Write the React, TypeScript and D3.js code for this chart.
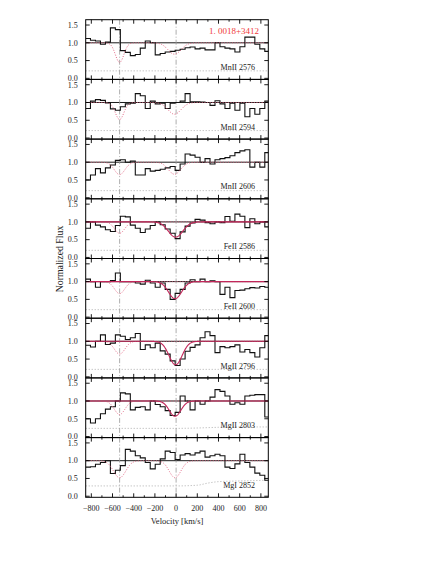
import React from 'react';
import * as d3 from 'd3';

const W = 443;
const H = 573;
const LEFT = 85.7;
const RIGHT = 268.3;
const TOP = 19.7;
const PANEL_H = 59.7;

const velocityDomain = [-853, 870];
const fluxDomain = [-0.03, 1.65];

// left edges of the velocity pixels (km/s); each pixel is 47 km/s wide
const velocityEdges = [
  -855, -808, -761, -714, -667, -620, -573, -526, -479, -432, -385, -338, -291,
  -244, -197, -150, -103, -56, -9, 38, 85, 132, 179, 226, 273, 320, 367, 414,
  461, 508, 555, 602, 649, 696, 743, 790, 837,
];
const pixelWidth = 47;

const flux_MnII2576 = [1.12, 1.07, 1.05, 0.96, 1.02, 1.42, 1.37, 0.78, 0.73, 0.64, 0.67, 0.85, 1.05, 1.0, 0.66, 0.70, 0.74, 0.76, 0.79, 0.82, 0.86, 0.88, 0.83, 0.85, 0.80, 0.80, 1.0, 0.89, 0.85, 0.83, 0.74, 0.89, 1.16, 1.16, 0.96, 0.83, 0.76];
const flux_MnII2594 = [0.83, 1.04, 1.08, 1.06, 0.99, 0.82, 0.78, 0.88, 0.96, 0.98, 1.25, 1.19, 0.83, 1.04, 0.96, 0.98, 0.83, 0.98, 1.0, 1.04, 1.25, 1.02, 1.02, 1.01, 1.0, 0.92, 1.05, 0.96, 0.83, 0.98, 0.78, 0.98, 0.6, 0.83, 0.67, 0.83, 1.04];
const flux_MnII2606 = [0.5, 0.64, 0.82, 0.70, 0.84, 0.92, 1.05, 1.07, 1.0, 1.03, 0.64, 0.64, 0.82, 0.75, 0.77, 0.80, 0.84, 0.88, 0.77, 0.95, 1.23, 1.2, 1.14, 1.0, 1.1, 0.95, 1.07, 1.1, 1.13, 1.18, 1.27, 1.32, 1.35, 0.86, 1.0, 0.86, 1.27];
const flux_FeII2586 = [0.82, 1.0, 0.91, 0.86, 0.78, 0.73, 0.9, 1.16, 1.14, 0.91, 0.82, 0.7, 0.8, 0.9, 1.0, 0.92, 0.8, 0.68, 0.53, 0.72, 0.88, 0.97, 1.07, 1.05, 0.98, 0.95, 1.0, 0.98, 1.15, 1.02, 1.22, 1.16, 0.84, 1.09, 0.95, 1.0, 0.86];
const flux_FeII2600 = [1.07, 1.0, 0.84, 1.0, 1.0, 1.03, 1.24, 1.0, 1.0, 1.0, 0.96, 0.93, 1.04, 0.96, 0.84, 0.96, 0.78, 0.5, 0.67, 0.78, 0.96, 1.05, 1.0, 1.07, 1.0, 1.02, 1.0, 0.64, 0.84, 0.55, 0.75, 0.76, 0.8, 0.83, 0.82, 0.86, 0.84];
const flux_MgII2796 = [0.89, 0.84, 1.0, 1.18, 0.91, 0.95, 1.18, 1.14, 1.05, 1.1, 1.22, 0.77, 0.9, 0.82, 0.95, 0.73, 0.64, 0.45, 0.32, 0.5, 0.72, 0.83, 0.9, 1.1, 1.27, 1.16, 0.68, 0.85, 0.82, 0.85, 0.9, 0.7, 0.77, 0.68, 0.56, 0.82, 1.16];
const flux_MgII2803 = [0.5, 0.38, 0.5, 0.64, 0.77, 0.84, 1.0, 1.23, 1.2, 0.75, 0.82, 0.84, 0.75, 1.0, 0.9, 0.84, 0.73, 0.59, 0.68, 1.14, 1.0, 0.75, 1.0, 0.91, 1.0, 1.11, 1.32, 1.27, 1.14, 0.91, 0.95, 0.91, 1.14, 1.16, 1.18, 1.18, 0.55];
const flux_MgI2852 = [0.82, 0.83, 0.9, 0.95, 1.0, 0.64, 0.73, 0.86, 1.32, 1.27, 1.14, 1.08, 0.95, 0.77, 0.9, 1.05, 1.27, 1.23, 1.03, 1.16, 1.2, 1.16, 1.22, 1.27, 1.1, 1.14, 1.18, 1.14, 0.82, 0.78, 0.91, 1.18, 0.95, 0.82, 0.65, 0.59, 0.45];

// error spectrum sampled at these velocities
const errorVelocities = [-853, -400, 0, 200, 300, 400, 600, 870];
const err_MnII2576 = [0.21, 0.21, 0.21, 0.21, 0.21, 0.21, 0.21, 0.21];
const err_MnII2594 = [0.21, 0.21, 0.21, 0.21, 0.21, 0.21, 0.21, 0.21];
const err_MnII2606 = [0.2, 0.2, 0.2, 0.2, 0.2, 0.2, 0.2, 0.2];
const err_FeII2586 = [0.2, 0.2, 0.2, 0.2, 0.2, 0.2, 0.2, 0.2];
const err_FeII2600 = [0.21, 0.21, 0.21, 0.21, 0.21, 0.21, 0.21, 0.21];
const err_MgII2796 = [0.21, 0.21, 0.21, 0.21, 0.21, 0.21, 0.21, 0.21];
const err_MgII2803 = [0.23, 0.23, 0.23, 0.24, 0.25, 0.26, 0.27, 0.27];
const err_MgI2852 = [0.29, 0.29, 0.29, 0.31, 0.37, 0.41, 0.43, 0.45];

const panelLabels = ['MnII 2576', 'MnII 2594', 'MnII 2606', 'FeII 2586', 'FeII 2600', 'MgII 2796', 'MgII 2803', 'MgI 2852'];

// model components: [center km/s, depth, sigma km/s]
const dotted_MnII2576 = [[-533, 0.55, 40], [-15, 0.32, 62]];
const dotted_MnII2594 = [[-533, 0.48, 40], [-15, 0.33, 62]];
const dotted_MnII2606 = [[-533, 0.35, 50], [-15, 0.34, 58]];
const dotted_FeII2586 = [[-533, 0.32, 48]];
const dotted_FeII2600 = [[-533, 0.34, 48]];
const dotted_MgII2796 = [[-533, 0.36, 50]];
const dotted_MgII2803 = [[-533, 0.38, 50]];
const dotted_MgI2852 = [[-533, 0.48, 58], [-10, 0.48, 55]];

const solid_FeII2586 = [[-5, 0.43, 68]];
const solid_FeII2600 = [[-10, 0.48, 62]];
const solid_MgII2796 = [[-5, 0.66, 62]];
const solid_MgII2803 = [[-10, 0.43, 55]];

const panels = [
  { label: panelLabels[0], flux: flux_MnII2576, err: err_MnII2576, dotted: dotted_MnII2576, solid: null },
  { label: panelLabels[1], flux: flux_MnII2594, err: err_MnII2594, dotted: dotted_MnII2594, solid: null },
  { label: panelLabels[2], flux: flux_MnII2606, err: err_MnII2606, dotted: dotted_MnII2606, solid: null },
  { label: panelLabels[3], flux: flux_FeII2586, err: err_FeII2586, dotted: dotted_FeII2586, solid: solid_FeII2586 },
  { label: panelLabels[4], flux: flux_FeII2600, err: err_FeII2600, dotted: dotted_FeII2600, solid: solid_FeII2600 },
  { label: panelLabels[5], flux: flux_MgII2796, err: err_MgII2796, dotted: dotted_MgII2796, solid: solid_MgII2796 },
  { label: panelLabels[6], flux: flux_MgII2803, err: err_MgII2803, dotted: dotted_MgII2803, solid: solid_MgII2803 },
  { label: panelLabels[7], flux: flux_MgI2852, err: err_MgI2852, dotted: dotted_MgI2852, solid: null },
];

const xMajorTicks = [-800, -600, -400, -200, 0, 200, 400, 600, 800];
const xMinorTicks = [-700, -500, -300, -100, 100, 300, 500, 700];
const yTicks = [0, 0.5, 1.0, 1.5];
const componentVelocities = [-533, 0];
const title = '1. 0018+3412';

const FONT = "'Liberation Serif', 'DejaVu Serif', serif";
const DOT_COLOR = '#e0607f';
const FIT_COLOR = '#c2275a';

function modelProfile(comps: number[][], v: number) {
  let f = 1;
  for (const [c, d, s] of comps) f *= 1 - d * Math.exp(-((v - c) * (v - c)) / (2 * s * s));
  return f;
}

export default function App() {
  const x = d3.scaleLinear().domain(velocityDomain).range([LEFT, RIGHT]);
  const modelGrid = d3.range(velocityDomain[0], velocityDomain[1] + 1, 4);

  return (
    <svg width={W} height={H} style={{ position: 'absolute', left: 0, top: 0, background: '#fff' }}
      fontFamily={FONT}>
      <defs>
        {panels.map((p, i) => (
          <clipPath id={`clip${i}`} key={i}>
            <rect x={LEFT} y={TOP + i * PANEL_H} width={RIGHT - LEFT} height={PANEL_H} />
          </clipPath>
        ))}
      </defs>
      {panels.map((p, i) => {
        const top = TOP + i * PANEL_H;
        const bottom = top + PANEL_H;
        const y = d3.scaleLinear().domain(fluxDomain).range([bottom, top]);
        const stepPts: [number, number][] = velocityEdges.map((v, k) => [v, p.flux[k]]);
        stepPts.push([velocityEdges[velocityEdges.length - 1] + pixelWidth, p.flux[p.flux.length - 1]]);
        const step = d3.line<[number, number]>().x(d => x(d[0])).y(d => y(d[1])).curve(d3.curveStepAfter)(stepPts);
        const errLine = d3.line<number>().x((v, k) => x(errorVelocities[k])).y((v) => y(v)).curve(d3.curveMonotoneX)(p.err);
        const dotLine = d3.line<number>().x(v => x(v)).y(v => y(modelProfile(p.dotted, v)))(modelGrid);
        const solidLine = p.solid ? d3.line<number>().x(v => x(v)).y(v => y(modelProfile(p.solid!, v)))(modelGrid) : null;
        return (
          <g key={i}>
            <g clipPath={`url(#clip${i})`}>
              <path d={errLine || ''} fill="none" stroke="#999" strokeWidth={0.8} strokeDasharray="1,2" />
              <line x1={LEFT} x2={RIGHT} y1={y(1)} y2={y(1)} stroke="#000" strokeWidth={0.9} />
              {componentVelocities.map(v => (
                <line key={v} x1={x(v)} x2={x(v)} y1={top} y2={bottom} stroke="#999" strokeWidth={0.8} strokeDasharray="5,2,1,2" />
              ))}
              <path d={step || ''} fill="none" stroke="#111" strokeWidth={1.1} />
              <path d={dotLine || ''} fill="none" stroke={DOT_COLOR} strokeWidth={1} strokeDasharray="1,1.6" />
              {solidLine && <path d={solidLine} fill="none" stroke={FIT_COLOR} strokeWidth={1.1} />}
            </g>
            <rect x={LEFT} y={top} width={RIGHT - LEFT} height={PANEL_H} fill="none" stroke="#000" strokeWidth={1} />
            {xMajorTicks.map(t => (
              <g key={'M' + t}>
                <line x1={x(t)} x2={x(t)} y1={bottom} y2={bottom - 4} stroke="#000" strokeWidth={0.9} />
                <line x1={x(t)} x2={x(t)} y1={top} y2={top + 4} stroke="#000" strokeWidth={0.9} />
              </g>
            ))}
            {xMinorTicks.map(t => (
              <g key={'m' + t}>
                <line x1={x(t)} x2={x(t)} y1={bottom} y2={bottom - 2} stroke="#000" strokeWidth={0.9} />
                <line x1={x(t)} x2={x(t)} y1={top} y2={top + 2} stroke="#000" strokeWidth={0.9} />
              </g>
            ))}
            {yTicks.map(t => (
              <g key={'y' + t}>
                <line x1={LEFT} x2={LEFT + 4} y1={y(t)} y2={y(t)} stroke="#000" strokeWidth={0.9} />
                <line x1={RIGHT} x2={RIGHT - 4} y1={y(t)} y2={y(t)} stroke="#000" strokeWidth={0.9} />
                <text x={LEFT - 8} y={y(t)} dy="0.35em" textAnchor="end" fontSize={8} fill="#222">{t.toFixed(1)}</text>
              </g>
            ))}
            <text x={255} y={top + 47.5} dy="0.35em" textAnchor="end" fontSize={8} fill="#222">{p.label}</text>
            {i === panels.length - 1 && xMajorTicks.map(t => (
              <text key={'xl' + t} x={x(t)} y={bottom + 11} dy="0.35em" textAnchor="middle" fontSize={8} fill="#222">
                {t < 0 ? '\u2212' + Math.abs(t) : String(t)}
              </text>
            ))}
          </g>
        );
      })}
      <text x={259} y={30.5} dy="0.35em" textAnchor="end" fontSize={9} fill="#f03a3a">{title}</text>
      <text x={177} y={TOP + 8 * PANEL_H + 24} dy="0.35em" textAnchor="middle" fontSize={8.5} fill="#222">Velocity [km/s]</text>
      <text transform={`translate(60, 259) rotate(-90)`} textAnchor="middle" dy="0.35em" fontSize={9.8} fill="#222">Normalized Flux</text>
    </svg>
  );
}
